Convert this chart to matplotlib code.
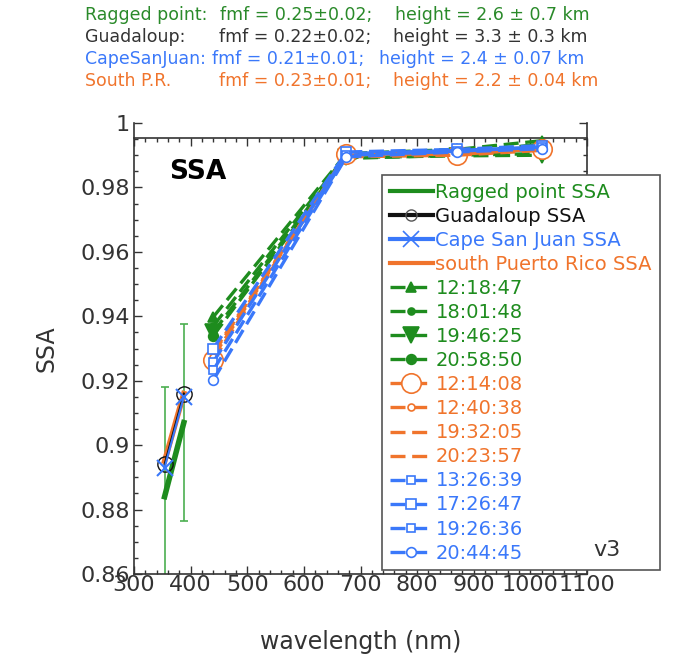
import matplotlib
matplotlib.use("Agg")
import matplotlib.pyplot as plt
from matplotlib.lines import Line2D
from matplotlib.ticker import MultipleLocator

# ---------------- data ----------------
omi_wl = [354, 388]
ragged_omi = [0.884, 0.907]
ragged_err = [0.034, 0.0305]
guad_omi = [0.894, 0.916]
cape_omi = [0.893, 0.915]
spr_omi = [0.895, 0.916]

aero_wl = [440, 675, 870, 1020]
green_times = ["12:18:47", "18:01:48", "19:46:25", "20:58:50"]
green_vals = [
    [0.9398, 0.9905, 0.9918, 0.9945],
    [0.9370, 0.9900, 0.9905, 0.9935],
    [0.9351, 0.9893, 0.9898, 0.9900],
    [0.9340, 0.9890, 0.9900, 0.9905],
]
orange_times = ["12:14:08", "12:40:38", "19:32:05", "20:23:57"]
orange_vals = [
    [0.9264, 0.9905, 0.9902, 0.9920],
    [0.9275, 0.9900, 0.9910, 0.9918],
    [0.9285, 0.9897, 0.9905, 0.9922],
    [0.9290, 0.9895, 0.9900, 0.9915],
]
blue_times = ["13:26:39", "17:26:47", "19:26:36", "20:44:45"]
blue_vals = [
    [0.9258, 0.9905, 0.9915, 0.9925],
    [0.9300, 0.9910, 0.9918, 0.9930],
    [0.9233, 0.9900, 0.9912, 0.9925],
    [0.9202, 0.9895, 0.9910, 0.9920],
]

header_lines = [
    ("Ragged point:", "fmf = 0.25\u00b10.02;", "height = 2.6 \u00b1 0.7 km"),
    ("Guadaloup:", "fmf = 0.22\u00b10.02;", "height = 3.3 \u00b1 0.3 km"),
    ("CapeSanJuan:", "fmf = 0.21\u00b10.01;", "height = 2.4 \u00b1 0.07 km"),
    ("South P.R.", "fmf = 0.23\u00b10.01;", "height = 2.2 \u00b1 0.04 km"),
]

GREEN = "#1e8c1e"
BLACK = "#111111"
BLUE = "#3a78fa"
ORANGE = "#f0742c"
HEAD_COLORS = ["#2a8a2a", "#333333", BLUE, ORANGE]

W, H = 682, 655
fig = plt.figure(figsize=(W / 100, H / 100), dpi=100)
ax = fig.add_axes([134 / W, 1 - 574 / H, (587 - 134) / W, (574 - 123) / H])

ax.set_xlim(300, 1100)
ax.set_ylim(0.86, 1.0)

dash = (0, (4.5, 2.0))
lw_d = 2.4

green_markers = [("^", 7, True), ("o", 5, True), ("v", 12, True), ("o", 7, True)]
orange_markers = [("o", 14, False), ("o", 5, False), ("None", 0, False), ("None", 0, False)]
blue_markers = [("s", 6, False), ("s", 7, False), ("s", 6, False), ("o", 7, False)]


def draw_group(vals, times, color, markers, z):
    hs = []
    for v, t, (m, ms, filled) in zip(vals, times, markers):
        ln, = ax.plot(aero_wl, v, color=color, linestyle=dash, linewidth=lw_d,
                      marker=m, markersize=ms,
                      markerfacecolor=color if filled else "white",
                      markeredgecolor=color, markeredgewidth=1.2, zorder=z)
        hs.append(ln)
    return hs

g_h = draw_group(green_vals, green_times, GREEN, green_markers, 3)
o_h = draw_group(orange_vals, orange_times, ORANGE, orange_markers, 4)
b_h = draw_group(blue_vals, blue_times, BLUE, blue_markers, 5)

# OMI retrievals
ax.errorbar(omi_wl, ragged_omi, yerr=ragged_err, fmt="none", ecolor="#4caf50",
            elinewidth=1.2, capsize=3, capthick=1.2, zorder=2)
h_r, = ax.plot(omi_wl, ragged_omi, color=GREEN, linewidth=4, zorder=6)
h_o, = ax.plot(omi_wl, spr_omi, color=ORANGE, linewidth=4, zorder=6)
h_g, = ax.plot(omi_wl, guad_omi, color=BLACK, linewidth=1.5, marker="o", markersize=11,
               markerfacecolor="none", markeredgecolor=BLACK, zorder=7)
h_c, = ax.plot(omi_wl, cape_omi, color=BLUE, linewidth=1.5, marker="x", markersize=11,
               markeredgewidth=1.5, zorder=8)

leg_handles = [
    Line2D([], [], color=GREEN, linewidth=3),
    Line2D([], [], color=BLACK, linewidth=3, marker="o", markersize=8,
           markerfacecolor="none", markeredgecolor="#555555"),
    Line2D([], [], color=BLUE, linewidth=3, marker="x", markersize=12, markeredgewidth=1.2),
    Line2D([], [], color=ORANGE, linewidth=3),
] + g_h + o_h + b_h
leg_labels = ["Ragged point SSA", "Guadaloup SSA", "Cape San Juan SSA",
              "south Puerto Rico SSA"] + green_times + orange_times + blue_times

leg = ax.legend(leg_handles, leg_labels, loc="upper left",
                bbox_to_anchor=(382 / W, 1 - 175 / H), bbox_transform=fig.transFigure,
                borderaxespad=0, fontsize=14, labelcolor="linecolor",
                handlelength=2.2, handletextpad=0.15, labelspacing=0.26,
                fancybox=False, framealpha=1, edgecolor="#555555",
                borderpad=0.4)
leg.get_frame().set_linewidth(1.2)
leg.set_zorder(20)
leg.get_texts()[1].set_color(BLACK)

# axes styling
for s in ["left", "right", "bottom", "top"]:
    ax.spines[s].set_linewidth(1.2)
    ax.spines[s].set_color("#333333")
ax.spines["top"].set_position(("data", 0.9953))
ax.xaxis.set_ticks_position("both")
ax.yaxis.set_ticks_position("both")
ax.xaxis.set_major_locator(MultipleLocator(100))
ax.xaxis.set_minor_locator(MultipleLocator(20))
ax.yaxis.set_major_locator(MultipleLocator(0.02))
ax.yaxis.set_minor_locator(MultipleLocator(0.005))
ax.tick_params(which="major", direction="in", length=6, width=1, colors="#333333",
               labelsize=16, labelcolor="#333333")
ax.tick_params(which="minor", direction="in", length=3, width=1, colors="#333333")
ax.tick_params(axis="x", pad=1)
ax.tick_params(axis="y", pad=3)
ax.yaxis.set_major_formatter(plt.FuncFormatter(lambda v, p: ("%.2f" % v).rstrip("0").rstrip(".")))

ax.set_xlabel("wavelength (nm)", fontsize=17, color="#333333", labelpad=25)
ax.set_ylabel("SSA", fontsize=17, color="#333333", labelpad=16)

fig.text(198 / W, 1 - 172 / H, "SSA", fontsize=19, color="black", fontweight="semibold",
         ha="center", va="center", zorder=10)

fig.text(593 / W, 1 - 550 / H, "v3", fontsize=16, color="#333333",
         ha="left", va="center", zorder=30)

# header
ys = [15, 37, 59, 81]
xs = [[85, 220, 395], [85, 219, 393], [85, 182, 379], [85, 219, 393]]
renderer = fig.canvas.get_renderer()
for (a, b, c), y, xx, col in zip(header_lines, ys, xs, HEAD_COLORS):
    prev_end = 0
    for txt, x in zip((a, b, c), xx):
        x = max(x, prev_end + 6)
        t = fig.text(x / W, 1 - y / H, txt, fontsize=12.5, color=col, ha="left", va="center")
        prev_end = t.get_window_extent(renderer).x1

fig.savefig("out.png", dpi=100)
